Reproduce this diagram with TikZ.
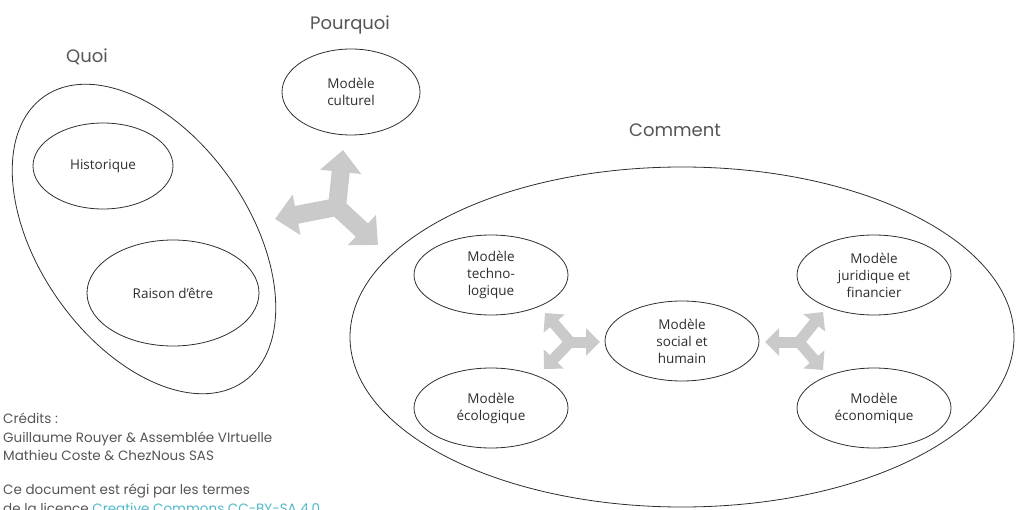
\documentclass[tikz,border=0pt]{standalone}
\usepackage{fontspec}
\setmainfont{Open Sans}
\newfontfamily\headfont{Poppins}
\usetikzlibrary{shapes.geometric,arrows.meta}

\definecolor{inkgray}{HTML}{2E2E2E}
\definecolor{headgray}{HTML}{555555}
\definecolor{arrowgray}{HTML}{CACACA}
\definecolor{linkteal}{HTML}{4FB8C8}

\tikzset{
  box/.style={ellipse, draw=inkgray, line width=0.8pt, inner sep=0pt,
    text=inkgray, align=center, font=\fontsize{13.5}{17}\selectfont},
  model/.style={box, minimum width=154pt, minimum height=80pt},
  heading/.style={text=headgray, font=\headfont\fontsize{18}{22}\selectfont},
  fatarrow/.style={draw=arrowgray, line width=18pt, line cap=round,
    -{Triangle[width=40pt,length=22pt]}},
  thinarrow/.style={draw=arrowgray, line width=11pt, line cap=round,
    -{Triangle[width=27pt,length=14pt]}},
}

\begin{document}
\begin{tikzpicture}[x=1pt,y=-1pt]
    \useasboundingbox (0,0) rectangle (1016,510);
    % Nodes
    \node[box, minimum width=348pt, minimum height=210pt, rotate=-55] (quoi) at (144,239) {}; %
    \node[box, minimum width=140pt, minimum height=86pt] (hist) at (103,166) {Historique}; %
    \node[box, minimum width=172pt, minimum height=106pt] (raison) at (173,293) {Raison d'être}; %
    \node[box, minimum width=138pt, minimum height=86pt] (culturel) at (351,92) {Modèle\\culturel}; %
    \node[box, minimum width=664pt, minimum height=340pt] (comment) at (682,337) {}; %
    \node[model] (techno) at (491,275) {Modèle\\techno-\\logique}; %
    \node[model] (eco) at (491,408) {Modèle\\écologique}; %
    \node[model] (social) at (682,341) {Modèle\\social et\\humain}; %
    \node[model] (jurid) at (874,275) {Modèle\\juridique et\\financier}; %
    \node[model] (econ) at (874,408) {Modèle\\économique}; %
    % Headings
    \node[heading] (quoilbl) at (87,57) {Quoi}; %
    \node[heading] (pourquoilbl) at (350,25) {Pourquoi}; %
    \node[heading] (commentlbl) at (675,130) {Comment}; %
    % Arrows
    \coordinate (hubA) at (337,207); %
    \coordinate (tipAup) at (343,150); %
    \coordinate (tipAleft) at (275,219); %
    \coordinate (tipAright) at (378,245); %
    \draw[fatarrow] (hubA) -- (tipAup); %
    \draw[fatarrow] (hubA) -- (tipAleft); %
    \draw[fatarrow] (hubA) -- (tipAright); %
    \coordinate (hubB) at (570,342); %
    \coordinate (tipBup) at (545,313); %
    \coordinate (tipBdown) at (544,369); %
    \coordinate (tipBright) at (600,342); %
    \draw[thinarrow] (hubB) -- (tipBup); %
    \draw[thinarrow] (hubB) -- (tipBdown); %
    \draw[thinarrow] (hubB) -- (tipBright); %
    \coordinate (hubC) at (799,342); %
    \coordinate (tipCleft) at (765,342); %
    \coordinate (tipCup) at (823,312); %
    \coordinate (tipCdown) at (823,370); %
    \draw[thinarrow] (hubC) -- (tipCleft); %
    \draw[thinarrow] (hubC) -- (tipCup); %
    \draw[thinarrow] (hubC) -- (tipCdown); %
    % Credits
    \node[anchor=north west, inner sep=0pt, align=left, text=headgray,
      font=\headfont\fontsize{13.5}{18.5}\selectfont] (credits) at (3,413)
      {Crédits :\\Guillaume Rouyer \& Assemblée VIrtuelle\\Mathieu Coste \& ChezNous SAS}; %
    \node[anchor=north west, inner sep=0pt, align=left, text=headgray,
      font=\headfont\fontsize{13.5}{19}\selectfont] (licence) at (3,484)
      {Ce document est régi par les termes\\de la licence \textcolor{linkteal}{Creative Commons CC-BY-SA 4.0}}; %
\end{tikzpicture}
\end{document}
